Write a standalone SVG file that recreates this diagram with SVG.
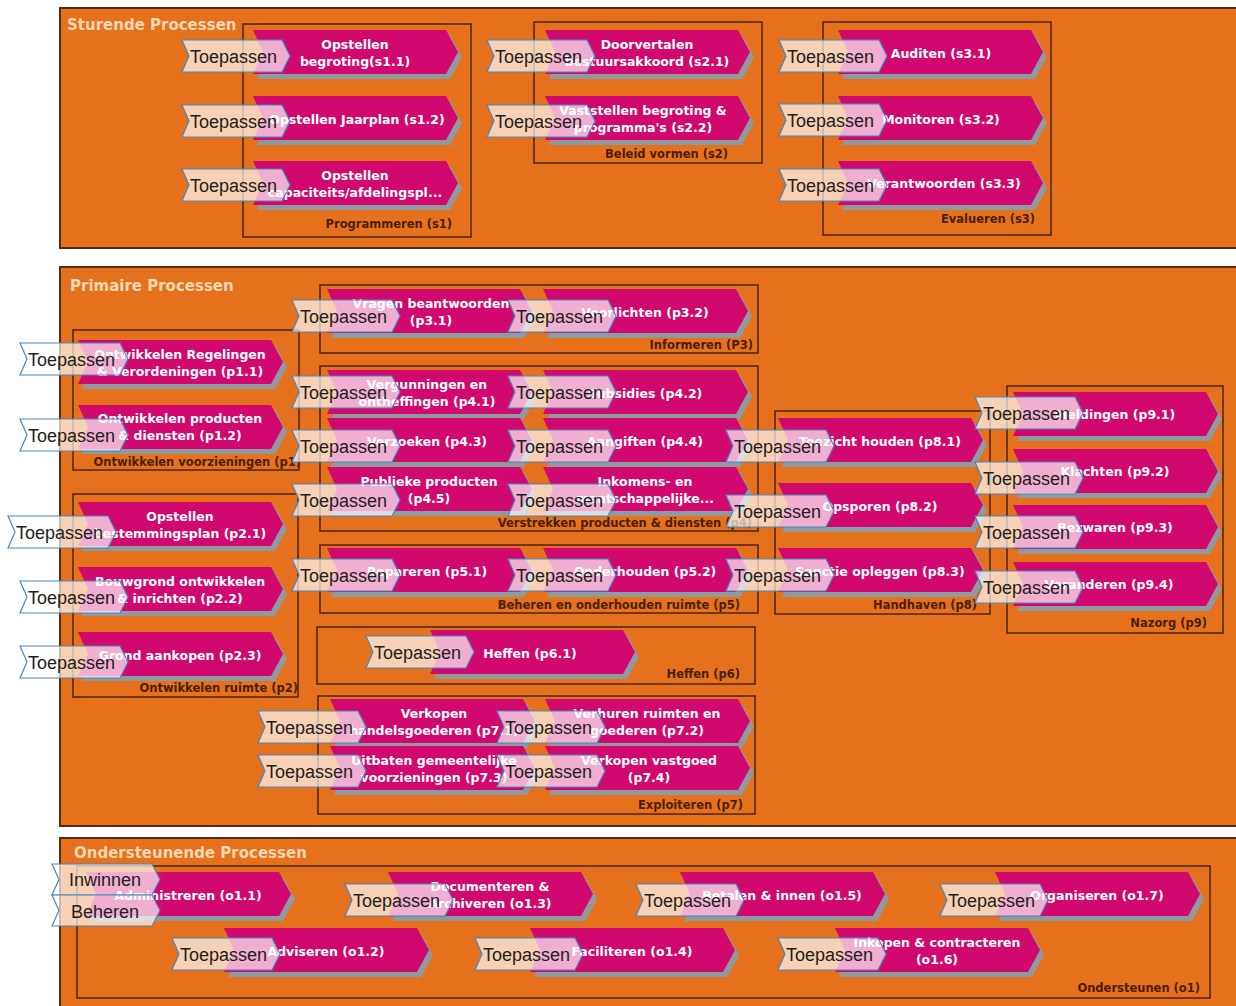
<svg xmlns="http://www.w3.org/2000/svg" width="1236" height="1006" viewBox="0 0 1236 1006">
<style>
.sec{fill:#e5711d;stroke:#5a2c0c;stroke-width:2}
.grp{fill:none;stroke:#4a2408;stroke-width:1.5}
.st{font-family:"DejaVu Sans",sans-serif;font-weight:bold;font-size:15px;fill:#fbd7b5}
.gl{font-family:"DejaVu Sans",sans-serif;font-weight:bold;font-size:11.5px;fill:#4a1f05;text-anchor:end}
.proc{fill:#d1096f}
.sh{fill:#8f9aa0}
.pt{font-family:"DejaVu Sans",sans-serif;font-weight:bold;font-size:12.5px;fill:#ffffff;text-anchor:middle}
.tg{fill:#ffffff;fill-opacity:0.68;stroke:#4a86c0;stroke-width:1.2}
.tt{font-family:"Liberation Sans",Arial,sans-serif;font-size:18px;fill:#1e1e1e}
</style>
<defs>
<path id="chev" d="M0,0 H193 L205,22 L193,44 H0 L10,22 Z"/>
<path id="tag" d="M0,0 H100 L108,16 L100,32 H0 L7,16 Z"/>
<path id="tag31" d="M0,0 H100 L108,15.5 L100,31 H0 L7,15.5 Z"/>
</defs>
<rect width="1236" height="1006" fill="#ffffff"/>

<!-- sections -->
<g id="sec-sturend"><rect class="sec" x="60" y="8" width="1200" height="240"/><text class="st" x="67" y="30">Sturende Processen</text></g>
<g id="sec-primair"><rect class="sec" x="60" y="267" width="1200" height="559"/><text class="st" x="70" y="291">Primaire Processen</text></g>
<g id="sec-onder"><rect class="sec" x="60" y="838" width="1200" height="200"/><text class="st" x="74" y="858">Ondersteunende Processen</text></g>

<!-- groups -->
<g id="g-s1"><rect class="grp" x="243" y="24" width="228" height="213"/><text class="gl" x="452" y="228">Programmeren (s1)</text></g>
<g id="g-s2"><rect class="grp" x="534" y="22" width="228" height="141"/><text class="gl" x="728" y="158">Beleid vormen (s2)</text></g>
<g id="g-s3"><rect class="grp" x="823" y="22" width="228" height="213"/><text class="gl" x="1035" y="223">Evalueren (s3)</text></g>
<g id="g-p1"><rect class="grp" x="73" y="330" width="226" height="140"/><text class="gl" x="301" y="466">Ontwikkelen voorzieningen (p1)</text></g>
<g id="g-p2"><rect class="grp" x="73" y="494" width="225" height="203"/><text class="gl" x="298" y="692">Ontwikkelen ruimte (p2)</text></g>
<g id="g-p3"><rect class="grp" x="320" y="285" width="438" height="68"/><text class="gl" x="753" y="349">Informeren (P3)</text></g>
<g id="g-p4"><rect class="grp" x="320" y="366" width="438" height="165"/><text class="gl" x="752" y="527">Verstrekken producten &amp; diensten (p4)</text></g>
<g id="g-p5"><rect class="grp" x="320" y="545" width="438" height="68"/><text class="gl" x="740" y="609">Beheren en onderhouden ruimte (p5)</text></g>
<g id="g-p6"><rect class="grp" x="317" y="627" width="438" height="57"/><text class="gl" x="740" y="678">Heffen (p6)</text></g>
<g id="g-p7"><rect class="grp" x="318" y="696" width="437" height="118"/><text class="gl" x="743" y="809">Exploiteren (p7)</text></g>
<g id="g-p8"><rect class="grp" x="775" y="411" width="215" height="203"/><text class="gl" x="977" y="609">Handhaven (p8)</text></g>
<g id="g-p9"><rect class="grp" x="1007" y="386" width="216" height="247"/><text class="gl" x="1207" y="627">Nazorg (p9)</text></g>
<g id="g-o1"><rect class="grp" x="77" y="866" width="1133" height="132"/><text class="gl" x="1200" y="992">Ondersteunen (o1)</text></g>

<!-- processes -->
<g id="s1-1" transform="translate(253,30)"><use href="#chev" class="sh" x="4" y="5"/><use href="#chev" class="proc"/><text class="pt" x="102" y="19">Opstellen</text><text class="pt" x="102" y="36">begroting(s1.1)</text></g>
<g id="s1-2" transform="translate(253,96)"><use href="#chev" class="sh" x="4" y="5"/><use href="#chev" class="proc"/><text class="pt" x="104" y="28">Opstellen Jaarplan (s1.2)</text></g>
<g id="s1-3" transform="translate(253,161)"><use href="#chev" class="sh" x="4" y="5"/><use href="#chev" class="proc"/><text class="pt" x="102" y="19">Opstellen</text><text class="pt" x="102" y="36">capaciteits/afdelingspl...</text></g>
<g id="s2-1" transform="translate(545,30)"><use href="#chev" class="sh" x="4" y="5"/><use href="#chev" class="proc"/><text class="pt" x="102" y="19">Doorvertalen</text><text class="pt" x="102" y="36">bestuursakkoord (s2.1)</text></g>
<g id="s2-2" transform="translate(545,96)"><use href="#chev" class="sh" x="4" y="5"/><use href="#chev" class="proc"/><text class="pt" x="98" y="19">Vaststellen begroting &amp;</text><text class="pt" x="98" y="36">programma's (s2.2)</text></g>
<g id="s3-1" transform="translate(838,30)"><use href="#chev" class="sh" x="4" y="5"/><use href="#chev" class="proc"/><text class="pt" x="103" y="28">Auditen (s3.1)</text></g>
<g id="s3-2" transform="translate(838,96)"><use href="#chev" class="sh" x="4" y="5"/><use href="#chev" class="proc"/><text class="pt" x="103" y="28">Monitoren (s3.2)</text></g>
<g id="s3-3" transform="translate(838,161)"><use href="#chev" class="sh" x="4" y="5"/><use href="#chev" class="proc"/><text class="pt" x="106" y="27">Verantwoorden (s3.3)</text></g>

<g id="p1-1" transform="translate(78,340)"><use href="#chev" class="sh" x="4" y="5"/><use href="#chev" class="proc"/><text class="pt" x="102" y="19">Ontwikkelen Regelingen</text><text class="pt" x="102" y="36">&amp; Verordeningen (p1.1)</text></g>
<g id="p1-2" transform="translate(78,405)"><use href="#chev" class="sh" x="4" y="5"/><use href="#chev" class="proc"/><text class="pt" x="102" y="18">Ontwikkelen producten</text><text class="pt" x="102" y="35">&amp; diensten (p1.2)</text></g>
<g id="p2-1" transform="translate(78,502)"><use href="#chev" class="sh" x="4" y="5"/><use href="#chev" class="proc"/><text class="pt" x="102" y="19">Opstellen</text><text class="pt" x="102" y="36">bestemmingsplan (p2.1)</text></g>
<g id="p2-2" transform="translate(78,567)"><use href="#chev" class="sh" x="4" y="5"/><use href="#chev" class="proc"/><text class="pt" x="102" y="19">Bouwgrond ontwikkelen</text><text class="pt" x="102" y="36">&amp; inrichten (p2.2)</text></g>
<g id="p2-3" transform="translate(78,632)"><use href="#chev" class="sh" x="4" y="5"/><use href="#chev" class="proc"/><text class="pt" x="102" y="28">Grond aankopen (p2.3)</text></g>

<g id="p3-1" transform="translate(327,289)"><use href="#chev" class="sh" x="4" y="5"/><use href="#chev" class="proc"/><text class="pt" x="104" y="19">Vragen beantwoorden</text><text class="pt" x="104" y="36">(p3.1)</text></g>
<g id="p3-2" transform="translate(543,289)"><use href="#chev" class="sh" x="4" y="5"/><use href="#chev" class="proc"/><text class="pt" x="102" y="28">Voorlichten (p3.2)</text></g>
<g id="p4-1" transform="translate(327,370)"><use href="#chev" class="sh" x="4" y="5"/><use href="#chev" class="proc"/><text class="pt" x="100" y="19">Vergunningen en</text><text class="pt" x="100" y="36">ontheffingen (p4.1)</text></g>
<g id="p4-2" transform="translate(543,370)"><use href="#chev" class="sh" x="4" y="5"/><use href="#chev" class="proc"/><text class="pt" x="102" y="28">Subsidies (p4.2)</text></g>
<g id="p4-3" transform="translate(327,418)"><use href="#chev" class="sh" x="4" y="5"/><use href="#chev" class="proc"/><text class="pt" x="100" y="28">Verzoeken (p4.3)</text></g>
<g id="p4-4" transform="translate(543,418)"><use href="#chev" class="sh" x="4" y="5"/><use href="#chev" class="proc"/><text class="pt" x="102" y="28">Aangiften (p4.4)</text></g>
<g id="p4-5" transform="translate(327,467)"><use href="#chev" class="sh" x="4" y="5"/><use href="#chev" class="proc"/><text class="pt" x="102" y="19">Publieke producten</text><text class="pt" x="102" y="36">(p4.5)</text></g>
<g id="p4-6" transform="translate(543,467)"><use href="#chev" class="sh" x="4" y="5"/><use href="#chev" class="proc"/><text class="pt" x="102" y="19">Inkomens- en</text><text class="pt" x="102" y="36">maatschappelijke...</text></g>
<g id="p5-1" transform="translate(327,548)"><use href="#chev" class="sh" x="4" y="5"/><use href="#chev" class="proc"/><text class="pt" x="100" y="28">Repareren (p5.1)</text></g>
<g id="p5-2" transform="translate(543,548)"><use href="#chev" class="sh" x="4" y="5"/><use href="#chev" class="proc"/><text class="pt" x="102" y="28">Onderhouden (p5.2)</text></g>
<g id="p6-1" transform="translate(430,630)"><use href="#chev" class="sh" x="4" y="5"/><use href="#chev" class="proc"/><text class="pt" x="100" y="28">Heffen (p6.1)</text></g>
<g id="p7-1" transform="translate(330,699)"><use href="#chev" class="sh" x="4" y="5"/><use href="#chev" class="proc"/><text class="pt" x="104" y="19">Verkopen</text><text class="pt" x="104" y="36">handelsgoederen (p7.1)</text></g>
<g id="p7-2" transform="translate(545,699)"><use href="#chev" class="sh" x="4" y="5"/><use href="#chev" class="proc"/><text class="pt" x="102" y="19">Verhuren ruimten en</text><text class="pt" x="102" y="36">goederen (p7.2)</text></g>
<g id="p7-3" transform="translate(330,746)"><use href="#chev" class="sh" x="4" y="5"/><use href="#chev" class="proc"/><text class="pt" x="104" y="19">Uitbaten gemeentelijke</text><text class="pt" x="104" y="36">voorzieningen (p7.3)</text></g>
<g id="p7-4" transform="translate(545,746)"><use href="#chev" class="sh" x="4" y="5"/><use href="#chev" class="proc"/><text class="pt" x="104" y="19">Verkopen vastgoed</text><text class="pt" x="104" y="36">(p7.4)</text></g>
<g id="p8-1" transform="translate(778,418)"><use href="#chev" class="sh" x="4" y="5"/><use href="#chev" class="proc"/><text class="pt" x="102" y="28">Toezicht houden (p8.1)</text></g>
<g id="p8-2" transform="translate(778,483)"><use href="#chev" class="sh" x="4" y="5"/><use href="#chev" class="proc"/><text class="pt" x="102" y="28">Opsporen (p8.2)</text></g>
<g id="p8-3" transform="translate(778,548)"><use href="#chev" class="sh" x="4" y="5"/><use href="#chev" class="proc"/><text class="pt" x="102" y="28">Sanctie opleggen (p8.3)</text></g>
<g id="p9-1" transform="translate(1013,392)"><use href="#chev" class="sh" x="4" y="5"/><use href="#chev" class="proc"/><text class="pt" x="102" y="27">Meldingen (p9.1)</text></g>
<g id="p9-2" transform="translate(1013,449)"><use href="#chev" class="sh" x="4" y="5"/><use href="#chev" class="proc"/><text class="pt" x="102" y="27">Klachten (p9.2)</text></g>
<g id="p9-3" transform="translate(1013,505)"><use href="#chev" class="sh" x="4" y="5"/><use href="#chev" class="proc"/><text class="pt" x="102" y="27">Bezwaren (p9.3)</text></g>
<g id="p9-4" transform="translate(1013,562)"><use href="#chev" class="sh" x="4" y="5"/><use href="#chev" class="proc"/><text class="pt" x="96" y="27">Veranderen (p9.4)</text></g>

<g id="o1-1" transform="translate(86,872)"><use href="#chev" class="sh" x="4" y="5"/><use href="#chev" class="proc"/><text class="pt" x="102" y="28">Administreren (o1.1)</text></g>
<g id="o1-2" transform="translate(224,928)"><use href="#chev" class="sh" x="4" y="5"/><use href="#chev" class="proc"/><text class="pt" x="102" y="28">Adviseren (o1.2)</text></g>
<g id="o1-3" transform="translate(388,872)"><use href="#chev" class="sh" x="4" y="5"/><use href="#chev" class="proc"/><text class="pt" x="102" y="19">Documenteren &amp;</text><text class="pt" x="102" y="36">Archiveren (o1.3)</text></g>
<g id="o1-4" transform="translate(530,928)"><use href="#chev" class="sh" x="4" y="5"/><use href="#chev" class="proc"/><text class="pt" x="102" y="28">Faciliteren (o1.4)</text></g>
<g id="o1-5" transform="translate(680,872)"><use href="#chev" class="sh" x="4" y="5"/><use href="#chev" class="proc"/><text class="pt" x="102" y="28">Betalen &amp; innen (o1.5)</text></g>
<g id="o1-6" transform="translate(835,928)"><use href="#chev" class="sh" x="4" y="5"/><use href="#chev" class="proc"/><text class="pt" x="102" y="19">Inkopen &amp; contracteren</text><text class="pt" x="102" y="36">(o1.6)</text></g>
<g id="o1-7" transform="translate(995,872)"><use href="#chev" class="sh" x="4" y="5"/><use href="#chev" class="proc"/><text class="pt" x="102" y="28">Organiseren (o1.7)</text></g>

<!-- application tags -->
<g id="t-s1-1" transform="translate(182,40)"><use href="#tag" class="tg"/><text class="tt" x="8" y="23">Toepassen</text></g>
<g id="t-s1-2" transform="translate(182,105)"><use href="#tag" class="tg"/><text class="tt" x="8" y="23">Toepassen</text></g>
<g id="t-s1-3" transform="translate(182,169)"><use href="#tag" class="tg"/><text class="tt" x="8" y="23">Toepassen</text></g>
<g id="t-s2-1" transform="translate(487,40)"><use href="#tag" class="tg"/><text class="tt" x="8" y="23">Toepassen</text></g>
<g id="t-s2-2" transform="translate(487,105)"><use href="#tag" class="tg"/><text class="tt" x="8" y="23">Toepassen</text></g>
<g id="t-s3-1" transform="translate(779,40)"><use href="#tag" class="tg"/><text class="tt" x="8" y="23">Toepassen</text></g>
<g id="t-s3-2" transform="translate(779,104)"><use href="#tag" class="tg"/><text class="tt" x="8" y="23">Toepassen</text></g>
<g id="t-s3-3" transform="translate(779,169)"><use href="#tag" class="tg"/><text class="tt" x="8" y="23">Toepassen</text></g>

<g id="t-p1-1" transform="translate(20,343)"><use href="#tag" class="tg"/><text class="tt" x="8" y="23">Toepassen</text></g>
<g id="t-p1-2" transform="translate(20,419)"><use href="#tag" class="tg"/><text class="tt" x="8" y="23">Toepassen</text></g>
<g id="t-p2-1" transform="translate(8,516)"><use href="#tag" class="tg"/><text class="tt" x="8" y="23">Toepassen</text></g>
<g id="t-p2-2" transform="translate(20,581)"><use href="#tag" class="tg"/><text class="tt" x="8" y="23">Toepassen</text></g>
<g id="t-p2-3" transform="translate(20,646)"><use href="#tag" class="tg"/><text class="tt" x="8" y="23">Toepassen</text></g>
<g id="t-p3-1" transform="translate(292,300)"><use href="#tag" class="tg"/><text class="tt" x="8" y="23">Toepassen</text></g>
<g id="t-p3-2" transform="translate(508,300)"><use href="#tag" class="tg"/><text class="tt" x="8" y="23">Toepassen</text></g>
<g id="t-p4-1" transform="translate(292,376)"><use href="#tag" class="tg"/><text class="tt" x="8" y="23">Toepassen</text></g>
<g id="t-p4-2" transform="translate(508,376)"><use href="#tag" class="tg"/><text class="tt" x="8" y="23">Toepassen</text></g>
<g id="t-p4-3" transform="translate(292,430)"><use href="#tag" class="tg"/><text class="tt" x="8" y="23">Toepassen</text></g>
<g id="t-p4-4" transform="translate(508,430)"><use href="#tag" class="tg"/><text class="tt" x="8" y="23">Toepassen</text></g>
<g id="t-p4-5" transform="translate(292,484)"><use href="#tag" class="tg"/><text class="tt" x="8" y="23">Toepassen</text></g>
<g id="t-p4-6" transform="translate(508,484)"><use href="#tag" class="tg"/><text class="tt" x="8" y="23">Toepassen</text></g>
<g id="t-p5-1" transform="translate(292,559)"><use href="#tag" class="tg"/><text class="tt" x="8" y="23">Toepassen</text></g>
<g id="t-p5-2" transform="translate(508,559)"><use href="#tag" class="tg"/><text class="tt" x="8" y="23">Toepassen</text></g>
<g id="t-p6-1" transform="translate(366,636)"><use href="#tag" class="tg"/><text class="tt" x="8" y="23">Toepassen</text></g>
<g id="t-p7-1" transform="translate(258,711)"><use href="#tag" class="tg"/><text class="tt" x="8" y="23">Toepassen</text></g>
<g id="t-p7-2" transform="translate(497,711)"><use href="#tag" class="tg"/><text class="tt" x="8" y="23">Toepassen</text></g>
<g id="t-p7-3" transform="translate(258,755)"><use href="#tag" class="tg"/><text class="tt" x="8" y="23">Toepassen</text></g>
<g id="t-p7-4" transform="translate(497,755)"><use href="#tag" class="tg"/><text class="tt" x="8" y="23">Toepassen</text></g>
<g id="t-p8-1" transform="translate(726,430)"><use href="#tag" class="tg"/><text class="tt" x="8" y="23">Toepassen</text></g>
<g id="t-p8-2" transform="translate(726,495)"><use href="#tag" class="tg"/><text class="tt" x="8" y="23">Toepassen</text></g>
<g id="t-p8-3" transform="translate(726,559)"><use href="#tag" class="tg"/><text class="tt" x="8" y="23">Toepassen</text></g>
<g id="t-p9-1" transform="translate(975,397)"><use href="#tag" class="tg"/><text class="tt" x="8" y="23">Toepassen</text></g>
<g id="t-p9-2" transform="translate(975,462)"><use href="#tag" class="tg"/><text class="tt" x="8" y="23">Toepassen</text></g>
<g id="t-p9-3" transform="translate(975,516)"><use href="#tag" class="tg"/><text class="tt" x="8" y="23">Toepassen</text></g>
<g id="t-p9-4" transform="translate(975,571)"><use href="#tag" class="tg"/><text class="tt" x="8" y="23">Toepassen</text></g>

<g id="t-o1-1a" transform="translate(52,864)"><use href="#tag31" class="tg"/><text class="tt" x="17" y="22">Inwinnen</text></g>
<g id="t-o1-1b" transform="translate(52,895)"><use href="#tag31" class="tg"/><text class="tt" x="19" y="23">Beheren</text></g>
<g id="t-o1-2" transform="translate(172,938)"><use href="#tag" class="tg"/><text class="tt" x="8" y="23">Toepassen</text></g>
<g id="t-o1-3" transform="translate(345,884)"><use href="#tag" class="tg"/><text class="tt" x="8" y="23">Toepassen</text></g>
<g id="t-o1-4" transform="translate(475,938)"><use href="#tag" class="tg"/><text class="tt" x="8" y="23">Toepassen</text></g>
<g id="t-o1-5" transform="translate(636,884)"><use href="#tag" class="tg"/><text class="tt" x="8" y="23">Toepassen</text></g>
<g id="t-o1-6" transform="translate(778,938)"><use href="#tag" class="tg"/><text class="tt" x="8" y="23">Toepassen</text></g>
<g id="t-o1-7" transform="translate(940,884)"><use href="#tag" class="tg"/><text class="tt" x="8" y="23">Toepassen</text></g>

<g id="connectors"/>
</svg>
